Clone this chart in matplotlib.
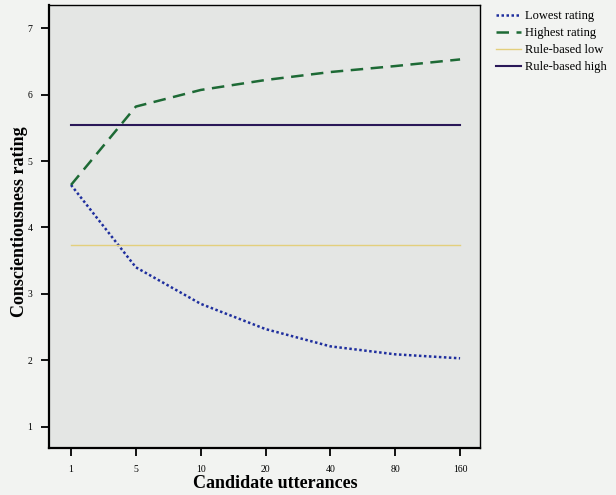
import matplotlib
matplotlib.use("Agg")
import matplotlib.pyplot as plt

# data
candidates = ["1", "5", "10", "20", "40", "80", "160"]
lowest = [4.64, 3.40, 2.85, 2.47, 2.21, 2.09, 2.03]
highest = [4.64, 5.82, 6.07, 6.22, 6.34, 6.43, 6.53]
rule_low = 3.73
rule_high = 5.55
yticks = [1, 2, 3, 4, 5, 6, 7]

plt.rcParams['font.family'] = ['Liberation Serif', 'DejaVu Serif']

fig = plt.figure(figsize=(6.16, 4.95), dpi=100, facecolor='#f2f3f1')
ax = fig.add_axes([0.0795, 0.095, 0.70, 0.895])
ax.set_facecolor('#e4e6e4')

x = list(range(len(candidates)))
ax.plot(x, lowest, color='#1f2f9e', linestyle=(0, (1, 1)), linewidth=1.8, label='Lowest rating')
ax.plot(x, highest, color='#1d6a35', linestyle=(0, (5, 3)), linewidth=1.8, label='Highest rating')
ax.plot([x[0], x[-1]], [rule_low, rule_low], color='#e3cf7c', linewidth=1.0, label='Rule-based low')
ax.plot([x[0], x[-1]], [rule_high, rule_high], color='#2a1858', linewidth=1.5, label='Rule-based high')

ax.set_xlim(-0.34, 6.31)
ax.set_ylim(0.68, 7.35)
ax.set_xticks(x)
ax.set_xticklabels(candidates)
ax.set_yticks(yticks)
ax.tick_params(direction='out', length=6, width=1.3, labelsize=7, pad=6)

for side in ['left', 'bottom']:
    ax.spines[side].set_linewidth(1.6)
for side in ['top', 'right']:
    ax.spines[side].set_linewidth(1.0)

ax.set_xlabel('Candidate utterances', fontsize=13, fontweight='bold')
ax.xaxis.set_label_coords(0.524, -0.062)
ax.set_ylabel('Conscientiousness rating', fontsize=13, fontweight='bold')
ax.yaxis.set_label_coords(-0.049, 0.51)

ax.legend(loc='upper left', bbox_to_anchor=(1.02, 1.005), frameon=False,
          fontsize=9, handlelength=2.0, handletextpad=0.3, labelspacing=0.4,
          borderaxespad=0.2)

fig.savefig('out.png', dpi=100, facecolor=fig.get_facecolor())
